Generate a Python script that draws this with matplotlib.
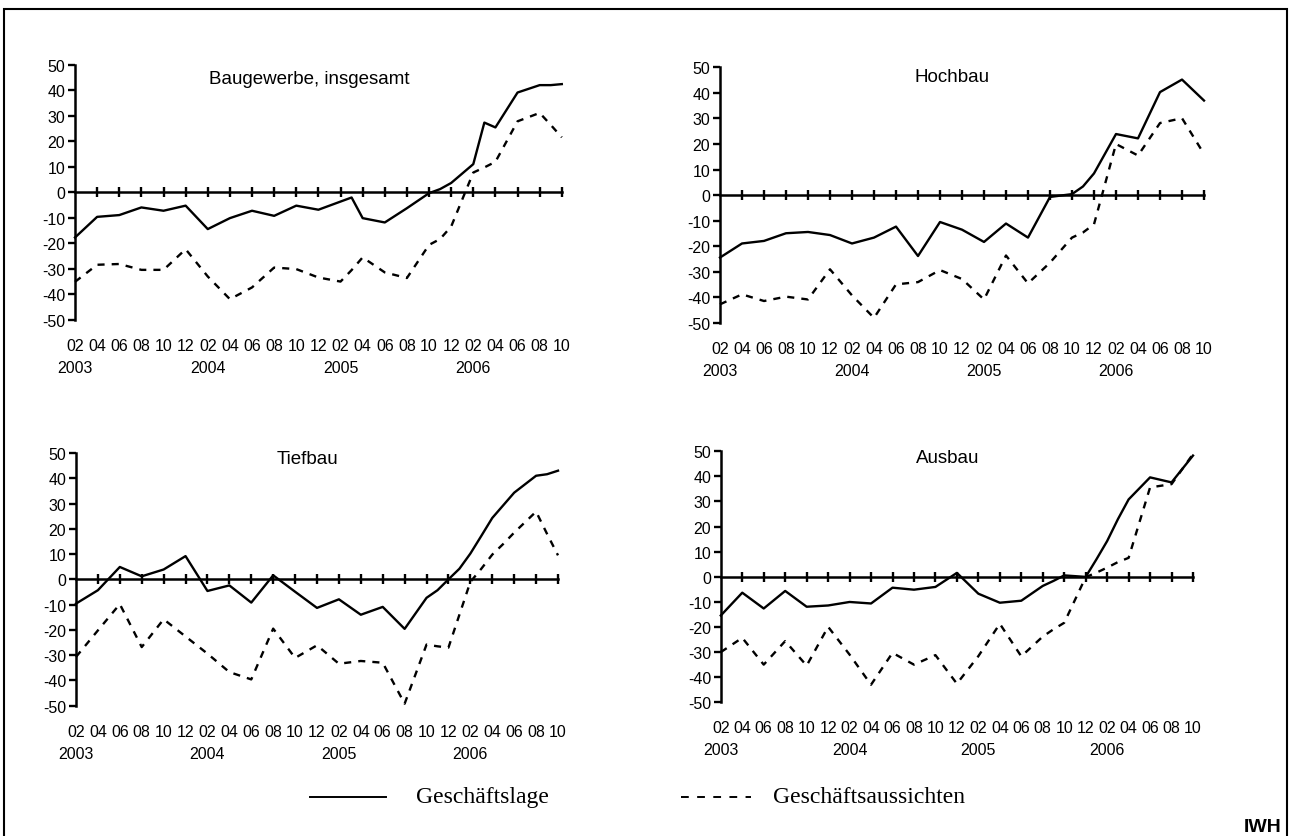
import matplotlib
matplotlib.use("Agg")
import matplotlib.pyplot as plt
from matplotlib.patches import Rectangle
from matplotlib.lines import Line2D

plt.rcParams['font.family'] = ['Liberation Sans', 'DejaVu Sans']
plt.rcParams['axes.unicode_minus'] = False

# x = months since 02/2003 (survey bimonthly first, monthly later)
bau_m = [0, 2, 4, 6, 8, 10, 12, 14, 16, 18, 20, 22, 24, 25, 26, 28, 30, 32, 33, 34,
         36, 37, 38, 40, 42, 43, 44]
bau_lage = [-17.7, -9.6, -8.9, -5.9, -7.2, -5.2, -14.4, -10.1, -7.2, -9.2, -5.2, -6.8,
            -3.6, -2.0, -10.1, -11.8, -6.2, -0.3, 1.3, 3.7, 11.1, 27.4, 25.5, 39.2,
            42.1, 42.1, 42.5]
bau_auss = [-35.1, -28.4, -28.1, -30.4, -30.4, -22.3, -33.0, -41.9, -37.3, -29.5, -30.1,
            -33.4, -35.0, -30.5, -25.5, -31.4, -33.6, -20.6, -18.3, -13.4, 7.8, 9.8,
            12.0, 27.9, 31.2, 26.5, 21.6]

hoch_m = [0, 2, 4, 6, 8, 10, 12, 14, 16, 18, 20, 22, 24, 26, 28, 30, 32, 33, 34, 36,
          38, 40, 42, 44]
hoch_lage = [-24.4, -18.9, -17.9, -14.9, -14.4, -15.6, -18.9, -16.6, -12.3, -23.8, -10.5,
             -13.5, -18.3, -11.1, -16.6, -0.7, 0.4, 3.4, 8.5, 23.9, 22.2, 40.3, 45.2, 37.0]
hoch_auss = [-42.7, -38.8, -41.4, -39.7, -40.8, -29.0, -39.2, -48.0, -34.9, -34.0, -29.3,
             -32.8, -40.8, -23.6, -34.5, -26.4, -16.6, -14.6, -11.4, 20.0, 15.5, 28.2,
             30.1, 16.1]

tief_m = [0, 2, 4, 6, 8, 10, 12, 14, 16, 18, 20, 22, 24, 26, 28, 30, 32, 33, 34, 35,
          36, 37, 38, 39, 40, 42, 43, 44]
tief_lage = [-9.6, -4.3, 4.9, 1.2, 3.9, 9.2, -4.6, -2.4, -9.2, 1.6, -4.9, -11.3, -7.9,
             -14.0, -10.9, -19.6, -7.3, -4.3, 0.0, 4.2, 10.2, 17.2, 24.3, 29.3, 34.3,
             41.0, 41.6, 43.0]
tief_auss = [-30.7, -20.2, -9.8, -26.8, -15.8, -22.6, -29.4, -36.7, -39.6, -19.5, -31.1,
             -26.1, -33.4, -32.3, -33.0, -49.2, -25.8, -26.5, -27.0, -14.0, -1.0, 4.2,
             9.8, 14.0, 18.5, 26.8, 18.0, 9.5]

aus_m = [0, 2, 4, 6, 8, 10, 12, 14, 16, 18, 20, 22, 24, 26, 28, 30, 31, 32, 34, 35,
         36, 37, 38, 40, 42, 44]
aus_lage = [-15.5, -6.4, -12.7, -5.7, -12.0, -11.5, -10.1, -10.7, -4.4, -5.2, -4.1, 1.5,
            -6.8, -10.4, -9.6, -3.7, -1.7, 0.5, -0.1, 6.9, 14.2, 22.9, 30.8, 39.6, 37.6,
            48.3]
aus_auss = [-30.1, -24.4, -35.1, -25.7, -35.5, -20.0, -31.1, -43.1, -30.4, -35.1, -31.3,
            -42.7, -31.7, -18.8, -31.8, -23.9, -21.0, -18.4, -0.2, 1.6, 3.6, 5.8, 7.5,
            35.6, 36.9, 48.9]

tick_months = list(range(0, 45, 2))
month_labels = ["02", "04", "06", "08", "10", "12"] * 3 + ["02", "04", "06", "08", "10"]
year_months = [0, 12, 24, 36]
year_labels = ["2003", "2004", "2005", "2006"]

W, H = 1290, 837
fig = plt.figure(figsize=(W / 100, H / 100), dpi=100)


def panel(box, title, tpos, months, lage, auss):
    l, t, r, b = box
    ax = fig.add_axes([l / W, 1 - b / H, (r - l) / W, (b - t) / H])
    ax.patch.set_visible(False)
    ax.plot(months, lage, color="black", lw=1.7, clip_on=False)
    ax.plot(months, auss, color="black", lw=1.7, ls=(0, (3.0, 3.0)), clip_on=False)
    ax.set_xlim(0, 44)
    ax.set_ylim(-50, 50)
    ax.spines["top"].set_visible(False)
    ax.spines["right"].set_visible(False)
    ax.spines["bottom"].set_position(("data", 0))
    ax.spines["bottom"].set_linewidth(1.8)
    ax.spines["left"].set_linewidth(1.8)
    ax.set_yticks(range(-50, 51, 10))
    ax.set_xticks(tick_months[1:])
    ax.tick_params(axis="x", direction="inout", length=7, width=1.7, labelbottom=False)
    ax.tick_params(axis="y", direction="out", length=5, width=1.7, labelsize=11.5, pad=2)
    for m, lab in zip(tick_months, month_labels):
        ax.annotate(lab, xy=(m, 0), xycoords=("data", "axes fraction"),
                    xytext=(0, -25.5 * 0.72), textcoords="offset points",
                    ha="center", va="center", fontsize=11.5)
    for m, lab in zip(year_months, year_labels):
        ax.annotate(lab, xy=(m, 0), xycoords=("data", "axes fraction"),
                    xytext=(0, -47.5 * 0.72), textcoords="offset points",
                    ha="center", va="center", fontsize=11.5)
    fig.text(tpos[0] / W, 1 - tpos[1] / H, title, ha="center", va="center", fontsize=13.5)
    return ax


panel((75, 66, 561.8, 320.8), "Baugewerbe, insgesamt", (309, 80), bau_m, bau_lage, bau_auss)
panel((720, 68.3, 1204, 324), "Hochbau", (952, 77.7), hoch_m, hoch_lage, hoch_auss)
panel((76, 454, 558, 706.7), "Tiefbau", (307.5, 460), tief_m, tief_lage, tief_auss)
panel((720.8, 452.3, 1193, 703), "Ausbau", (947.5, 458.3), aus_m, aus_lage, aus_auss)

# legend
ly = 1 - 798 / H
serif = ["Liberation Serif", "DejaVu Serif"]
fig.add_artist(Line2D([310 / W, 386 / W], [ly, ly], color="black", lw=1.4))
fig.add_artist(Line2D([681 / W, 751 / W], [ly, ly], color="black", lw=1.4,
                      ls=(0, (4, 4.3))))
fig.text(416 / W, ly, "Geschäftslage", ha="left", va="center", fontsize=17, family=serif)
fig.text(773 / W, ly, "Geschäftsaussichten", ha="left", va="center", fontsize=17,
         family=serif)
fig.text(1263 / W, 1 - 828 / H, "IWH", ha="center", va="center", fontsize=14,
         fontweight="bold")

# outer frame
fig.add_artist(Rectangle((4 / W, -0.02), (1287 - 4) / W, 1.02 - 10 / H,
                         transform=fig.transFigure, fill=False, lw=1.5,
                         edgecolor="black"))

fig.savefig("out.png", dpi=100)
